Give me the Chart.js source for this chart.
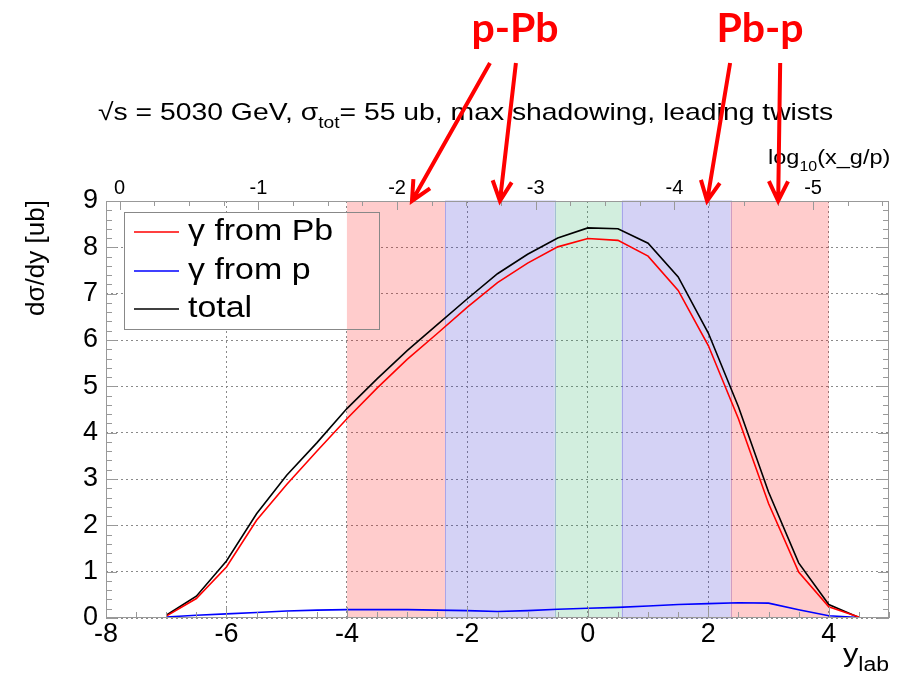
<!DOCTYPE html>
<html>
<head>
<meta charset="utf-8">
<script src="https://cdn.jsdelivr.net/npm/chart.js@4.4.0/dist/chart.umd.min.js"></script>
<style>
  html, body { margin: 0; padding: 0; background: #fff; }
</style>
</head>
<body>
<canvas id="myChart" width="899" height="679"></canvas>
<script>
// rapidity points and dsigma/dy [ub]
var ylab = [-7, -6.5, -6, -5.5, -5, -4.5, -4, -3.5, -3, -2.5, -2, -1.5, -1, -0.5, 0, 0.5, 1, 1.5, 2, 2.5, 3, 3.5, 4, 4.5];
var fromPb = [0.04, 0.42, 1.10, 2.11, 2.88, 3.60, 4.30, 4.96, 5.58, 6.14, 6.71, 7.24, 7.66, 8.01, 8.19, 8.15, 7.81, 7.07, 5.88, 4.30, 2.47, 0.99, 0.24, 0.02];
var fromP = [0.02, 0.06, 0.09, 0.12, 0.15, 0.17, 0.18, 0.18, 0.18, 0.17, 0.16, 0.14, 0.16, 0.19, 0.21, 0.23, 0.26, 0.29, 0.31, 0.33, 0.32, 0.18, 0.05, 0.01];
var total = [0.06, 0.47, 1.23, 2.25, 3.08, 3.78, 4.52, 5.16, 5.77, 6.33, 6.89, 7.43, 7.85, 8.20, 8.42, 8.40, 8.09, 7.36, 6.15, 4.56, 2.72, 1.19, 0.29, 0.01];

// tick labels
var xTicks = [-8, -6, -4, -2, 0, 2, 4];
var yTicks = [0, 1, 2, 3, 4, 5, 6, 7, 8, 9];
var topTicks = [0, -1, -2, -3, -4, -5];

// shaded rapidity ranges
var bandEdges = [-4, -2.37, -0.55, 0.56, 2.37, 4];
var bandColors = ['rgba(255,0,0,0.2)', 'rgba(40,30,205,0.2)', 'rgba(30,170,90,0.2)', 'rgba(40,30,205,0.2)', 'rgba(255,0,0,0.2)'];

// arrows: tip on the y_lab axis, tail offset in px
var arrows = [[-2.92, 78], [-1.46, 16], [1.98, 23], [3.16, 2]];

var Y0 = -7.773; // y_lab where log10(x) = 0
function toLog(y) { return -(y - Y0) / Math.LN10; }

var FONT = "'Liberation Sans', Arial, sans-serif";

function pts(vals) {
    return vals.map(function (v, i) { return { x: ylab[i], y: v }; });
}

// text with subscripts, k = horizontal stretch (the original is a bit wide)
function rich(ctx, parts, x, y, size, k, subScale) {
    ctx.save();
    ctx.translate(x, y);
    ctx.scale(k, 1);
    var cx = 0;
    parts.forEach(function (p) {
        var s = p.sub ? size * (subScale || 0.68) : size;
        ctx.font = s + 'px ' + FONT;
        ctx.fillText(p.t, cx, p.sub ? size * 0.33 : 0);
        cx += ctx.measureText(p.t).width;
    });
    ctx.restore();
}

function arrow(ctx, x1, y1, x2, y2) {
    var a = Math.atan2(y2 - y1, x2 - x1), h = 22, w = 0.45;
    ctx.beginPath();
    ctx.moveTo(x1, y1);
    ctx.lineTo(x2, y2);
    ctx.moveTo(x2 - h * Math.cos(a - w), y2 - h * Math.sin(a - w));
    ctx.lineTo(x2, y2);
    ctx.lineTo(x2 - h * Math.cos(a + w), y2 - h * Math.sin(a + w));
    ctx.stroke();
}

var legendBox = { x: 124, y: 212, w: 255, h: 117 };

var decor = {
    id: 'decor',
    beforeDatasetsDraw: function (chart) {
        var ctx = chart.ctx, a = chart.chartArea, sx = chart.scales.x;
        ctx.save();
        ctx.fillStyle = '#fff';
        ctx.fillRect(legendBox.x, legendBox.y, legendBox.w, legendBox.h);
        for (var i = 0; i < bandColors.length; i++) {
            var x1 = sx.getPixelForValue(bandEdges[i]), x2 = sx.getPixelForValue(bandEdges[i + 1]);
            ctx.fillStyle = bandColors[i];
            ctx.fillRect(x1, a.top, x2 - x1, a.bottom - a.top);
            if (i == 1 || i == 3) {
                ctx.strokeStyle = 'rgba(60,60,210,0.3)';
                ctx.lineWidth = 1;
                ctx.strokeRect(Math.round(x1) + 0.5, a.top, Math.round(x2 - x1), a.bottom - a.top);
            }
        }
        ctx.restore();
    },
    afterDraw: function (chart) {
        var ctx = chart.ctx, a = chart.chartArea;
        var sx = chart.scales.x, sy = chart.scales.y, st = chart.scales.x2;
        ctx.save();
        // frame and inner ticks
        ctx.strokeStyle = '#999';
        ctx.lineWidth = 1;
        ctx.strokeRect(a.left + 0.5, a.top + 0.5, a.right - a.left - 1, a.bottom - a.top - 1);
        ctx.beginPath();
        for (var v = -8; v <= 5.001; v += 0.5) {
            var px = Math.round(sx.getPixelForValue(v)) + 0.5;
            var len = (Math.abs(v % 2) < 0.01) ? 11 : 6;
            ctx.moveTo(px, a.bottom);
            ctx.lineTo(px, a.bottom - len);
        }
        for (var w = 0; w >= -5.5; w -= 0.25) {
            var tx = Math.round(st.getPixelForValue(w)) + 0.5;
            var tl = (Math.abs(w % 1) < 0.01) ? 9 : 5;
            ctx.moveTo(tx, a.top);
            ctx.lineTo(tx, a.top + tl);
        }
        for (var u = 0; u <= 9.001; u += 0.2) {
            var py = Math.round(sy.getPixelForValue(u)) + 0.5;
            var ll = (Math.abs(u - Math.round(u)) < 0.01) ? 11 : 6;
            ctx.moveTo(a.left, py);
            ctx.lineTo(a.left + ll, py);
            ctx.moveTo(a.right, py);
            ctx.lineTo(a.right - ll, py);
        }
        ctx.stroke();

        // legend
        ctx.strokeStyle = '#888';
        ctx.strokeRect(legendBox.x + 0.5, legendBox.y + 0.5, legendBox.w, legendBox.h);
        var rows = [232, 271, 309];
        chart.data.datasets.forEach(function (ds, i) {
            ctx.strokeStyle = ds.borderColor;
            ctx.lineWidth = 1.5;
            ctx.beginPath();
            ctx.moveTo(134, rows[i]);
            ctx.lineTo(179, rows[i]);
            ctx.stroke();
            ctx.fillStyle = '#000';
            ctx.textBaseline = 'middle';
            ctx.textAlign = 'left';
            rich(ctx, [{ t: ds.label }], 188, rows[i], 29, 1.17);
        });

        // titles
        ctx.fillStyle = '#000';
        ctx.textBaseline = 'alphabetic';
        ctx.textAlign = 'left';
        rich(ctx, [{ t: '√s = 5030 GeV, σ' }, { t: 'tot', sub: true }, { t: '= 55 ub, max shadowing, leading twists' }], 98, 120, 24, 1.18);
        rich(ctx, [{ t: 'log' }, { t: '10', sub: true }, { t: '(x_g/p)' }], 768, 164, 21, 1.12);
        rich(ctx, [{ t: 'y' }, { t: 'lab', sub: true }], 843, 662, 26, 1.18, 0.75);
        ctx.save();
        ctx.translate(44, 258);
        ctx.rotate(-Math.PI / 2);
        ctx.textAlign = 'center';
        ctx.font = '26px ' + FONT;
        ctx.fillText('dσ/dy [ub]', 0, 0);
        ctx.restore();

        // annotations
        ctx.fillStyle = '#ff0000';
        ctx.textAlign = 'center';
        ctx.font = 'bold 41px Lato, sans-serif';
        ctx.fillText('p-Pb', 515, 42);
        ctx.fillText('Pb-p', 760, 42);
        ctx.strokeStyle = '#ff0000';
        ctx.lineWidth = 4;
        arrows.forEach(function (r) {
            var tip = sx.getPixelForValue(r[0]);
            arrow(ctx, tip + r[1], 63, tip, a.top);
        });
        ctx.restore();
    }
};

var ctx = document.getElementById('myChart').getContext('2d');
var myChart = new Chart(ctx, {
    type: 'line',
    data: {
        datasets: [{
            label: 'γ from Pb',
            data: pts(fromPb),
            borderColor: '#ff0000',
            borderWidth: 1.6
        }, {
            label: 'γ from p',
            data: pts(fromP),
            borderColor: '#0000ff',
            borderWidth: 1.6
        }, {
            label: 'total',
            data: pts(total),
            borderColor: '#000000',
            borderWidth: 1.6
        }]
    },
    options: {
        responsive: false,
        animation: false,
        elements: { point: { radius: 0 }, line: { tension: 0, fill: false } },
        layout: { padding: { left: 0, right: 10, top: 0, bottom: 0 } },
        plugins: {
            legend: { display: false },
            title: { display: false },
            tooltip: { enabled: false }
        },
        scales: {
            x: {
                type: 'linear',
                position: 'bottom',
                min: -8,
                max: 5,
                afterBuildTicks: function (s) { s.ticks = xTicks.map(function (v) { return { value: v }; }); },
                afterFit: function (s) { s.height = 61; },
                ticks: { font: { family: FONT, size: 27 }, color: '#000', padding: 0, maxRotation: 0, autoSkip: false },
                grid: { color: '#8a8a8a', drawTicks: false },
                border: { display: false, dash: [2, 3] }
            },
            x2: {
                type: 'linear',
                position: 'top',
                reverse: true,
                min: toLog(5),
                max: toLog(-8),
                afterBuildTicks: function (s) { s.ticks = topTicks.map(function (v) { return { value: v }; }); },
                afterFit: function (s) { s.height = 201; },
                ticks: { font: { family: FONT, size: 20 }, color: '#000', padding: 1, maxRotation: 0, autoSkip: false },
                grid: { display: false, drawTicks: false },
                border: { display: false }
            },
            y: {
                type: 'linear',
                min: 0,
                max: 9,
                afterBuildTicks: function (s) { s.ticks = yTicks.map(function (v) { return { value: v }; }); },
                afterFit: function (s) { s.width = 106; },
                ticks: { font: { family: FONT, size: 27 }, color: '#000', padding: 8 },
                grid: { color: '#8a8a8a', drawTicks: false },
                border: { display: false, dash: [2, 3] }
            }
        }
    },
    plugins: [decor]
});
</script>
</body>
</html>
